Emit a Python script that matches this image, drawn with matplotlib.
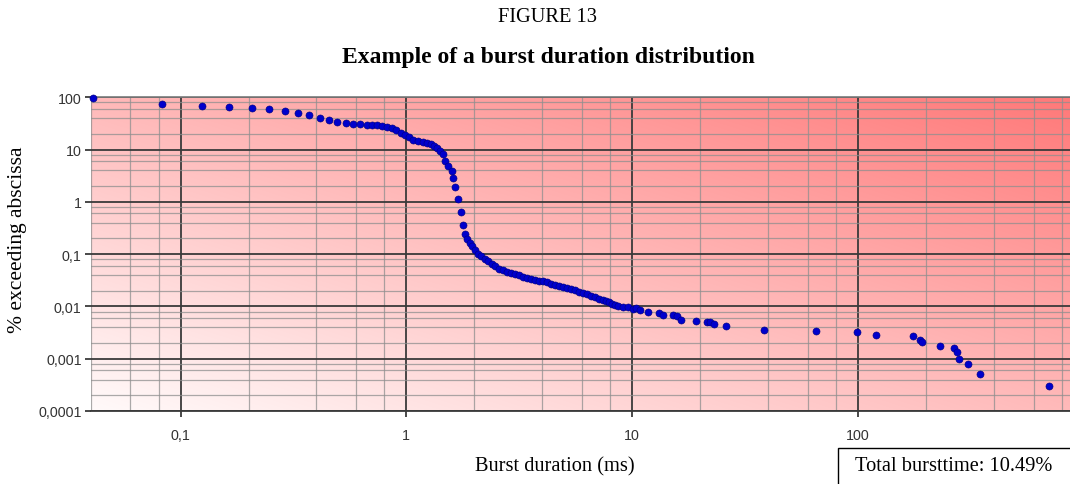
import numpy as np
import matplotlib
matplotlib.use("Agg")
import matplotlib.pyplot as plt
from matplotlib.ticker import LogLocator, FixedLocator, FixedFormatter, NullFormatter
from matplotlib.patches import Rectangle

# Burst duration (ms) and percentage of bursts exceeding that duration
burst_ms = [
    0.041, 0.0825, 0.124, 0.164, 0.207, 0.247, 0.290, 0.332, 0.372, 0.415,
    0.455, 0.495, 0.541, 0.582, 0.624, 0.668, 0.703, 0.739, 0.778, 0.819,
    0.862, 0.900, 0.944, 0.987, 1.031, 1.074, 1.130, 1.182, 1.231, 1.282,
    1.330, 1.372, 1.410, 1.449, 1.484, 1.535, 1.589, 1.615, 1.643, 1.700,
    1.741, 1.777, 1.820, 1.857, 1.905, 1.954, 2.015, 2.077, 2.142, 2.220,
    2.300, 2.384, 2.471, 2.574, 2.680, 2.790, 2.909, 3.030, 3.156, 3.287,
    3.424, 3.565, 3.715, 3.870, 4.030, 4.200, 4.373, 4.556, 4.745, 4.940,
    5.148, 5.362, 5.585, 5.818, 6.060, 6.313, 6.577, 6.850, 7.136, 7.430,
    7.700, 7.900, 8.150, 8.400, 8.690, 9.110, 9.620, 10.12, 10.40, 10.84,
    11.80, 13.20, 13.75, 15.22, 15.86, 16.47, 19.13, 21.40, 22.10, 23.05,
    25.97, 38.46, 65.0, 98.8, 119.7, 176.0, 189.0, 191.7, 231.0, 267.0,
    273.4, 279.0, 306.4, 347.4, 703.0,
]
pct_exceeding = [
    97.0, 75.4, 69.1, 64.4, 63.0, 59.7, 55.4, 50.7, 45.3, 40.2,
    37.3, 34.1, 32.2, 31.3, 30.9, 29.9, 29.5, 29.3, 28.2, 27.0,
    25.5, 23.4, 21.0, 19.0, 17.2, 15.5, 14.4, 14.2, 13.5, 12.8,
    11.9, 10.6, 9.52, 8.23, 6.13, 4.92, 3.95, 2.82, 1.90, 1.13,
    0.648, 0.361, 0.243, 0.195, 0.167, 0.143, 0.1175, 0.1028, 0.0921, 0.0825,
    0.0740, 0.0662, 0.0593, 0.0531, 0.0491, 0.0461, 0.0442, 0.0417, 0.0394, 0.0373,
    0.0357, 0.0342, 0.0324, 0.0310, 0.0300, 0.0287, 0.0272, 0.0260, 0.0246, 0.0232,
    0.0222, 0.02126, 0.02034, 0.01913, 0.01806, 0.01706, 0.01597, 0.01494, 0.01417, 0.01355,
    0.0127, 0.0119, 0.01112, 0.01055, 0.01005, 0.00975, 0.00961, 0.00912, 0.0092, 0.00854,
    0.0080, 0.00748, 0.00685, 0.00695, 0.00647, 0.00557, 0.00533, 0.0051, 0.00493, 0.00461,
    0.00417, 0.00359, 0.00336, 0.0032, 0.00286, 0.00272, 0.00228, 0.00206, 0.001774, 0.001616,
    0.001355, 0.001009, 0.000791, 0.000503, 0.0003,
]

x_ticks = [0.1, 1, 10, 100]
x_tick_labels = ["0,1", "1", "10", "100"]
y_ticks = [0.0001, 0.001, 0.01, 0.1, 1, 10, 100]
y_tick_labels = ["0,0001", "0,001", "0,01", "0,1", "1", "10", "100"]

W, H = 1070, 485
fig = plt.figure(figsize=(W / 100, H / 100), dpi=100)

serif = ["Liberation Serif", "DejaVu Serif"]
sans = ["Liberation Sans", "DejaVu Sans"]

# plot area in pixels (left, top, right, bottom); right side runs past the page edge
L, T, R, B = 90.7, 98.3, 1083.7, 412.0
rect = [L / W, 1 - B / H, (R - L) / W, (B - T) / H]

# diagonal white-to-red background
bg = fig.add_axes(rect, zorder=0)
u = np.linspace(0, 1, 400)
v = np.linspace(0, 1, 200)
U, V = np.meshgrid(u, v)
t = (U + V) / 2.0
c0 = np.array([1.0, 0.98, 0.98])
c1 = np.array([1.0, 0.47, 0.47])
img = c0[None, None, :] + (c1 - c0)[None, None, :] * t[:, :, None]
bg.imshow(img, extent=[0, 1, 0, 1], origin="lower", aspect="auto", interpolation="bilinear")
bg.set_axis_off()

ax = fig.add_axes(rect, zorder=1)
ax.set_facecolor("none")
ax.set_xscale("log")
ax.set_yscale("log")
ax.set_xlim(0.04, 1000)
ax.set_ylim(0.0001, 100)

ax.xaxis.set_major_locator(FixedLocator(x_ticks))
ax.xaxis.set_major_formatter(FixedFormatter(x_tick_labels))
ax.yaxis.set_major_locator(FixedLocator(y_ticks))
ax.yaxis.set_major_formatter(FixedFormatter(y_tick_labels))
ax.xaxis.set_minor_locator(LogLocator(base=10, subs=[2, 4, 6, 8], numticks=20))
ax.yaxis.set_minor_locator(LogLocator(base=10, subs=[2, 4, 6, 8], numticks=20))
ax.xaxis.set_minor_formatter(NullFormatter())
ax.yaxis.set_minor_formatter(NullFormatter())

ax.grid(which="minor", color="#8f8f8f", lw=0.9, alpha=0.75)
ax.grid(which="major", color="#3a3a3a", lw=1.3)
ax.set_axisbelow(True)

ax.tick_params(which="major", length=4.5, width=1.3, color="#3a3a3a",
               labelsize=10.3, labelcolor="#333333")
ax.tick_params(axis="x", which="major", pad=7.5)
ax.tick_params(axis="y", which="major", pad=2)
ax.tick_params(which="minor", length=0)
for lab in ax.get_xticklabels() + ax.get_yticklabels():
    lab.set_fontfamily(sans)

for side in ["right", "left"]:
    ax.spines[side].set_visible(False)
ax.spines["top"].set_color("#7a7a7a")
ax.spines["top"].set_linewidth(1.2)
ax.spines["bottom"].set_color("#3a3a3a")
ax.spines["bottom"].set_linewidth(1.3)

ax.scatter(burst_ms, pct_exceeding, s=26, color="#0000cc",
           edgecolors="#00007a", linewidths=0.4, zorder=3, clip_on=False)

fig.text(548 / W, 1 - 18 / H, "FIGURE 13", ha="center", va="center",
         fontsize=14.7, family=serif)
fig.text(548 / W, 1 - 57 / H, "Example of a burst duration distribution",
         ha="center", va="center", fontsize=17, fontweight="bold", family=serif)
fig.text(555 / W, 1 - 467 / H, "Burst duration (ms)", ha="center", va="center",
         fontsize=14.7, family=serif)
fig.text(18 / W, 1 - 240 / H, "% exceeding abscissa", ha="center", va="center",
         rotation=90, fontsize=15.5, family=serif)

box = Rectangle((838 / W, -0.05), 0.3, 1 - 449 / H + 0.05, transform=fig.transFigure,
                fill=False, edgecolor="black", lw=1.0)
fig.patches.append(box)
fig.text(855 / W, 1 - 467 / H, "Total bursttime: 10.49%", ha="left", va="center",
         fontsize=14.7, family=serif)

fig.savefig("out.png", dpi=100)
